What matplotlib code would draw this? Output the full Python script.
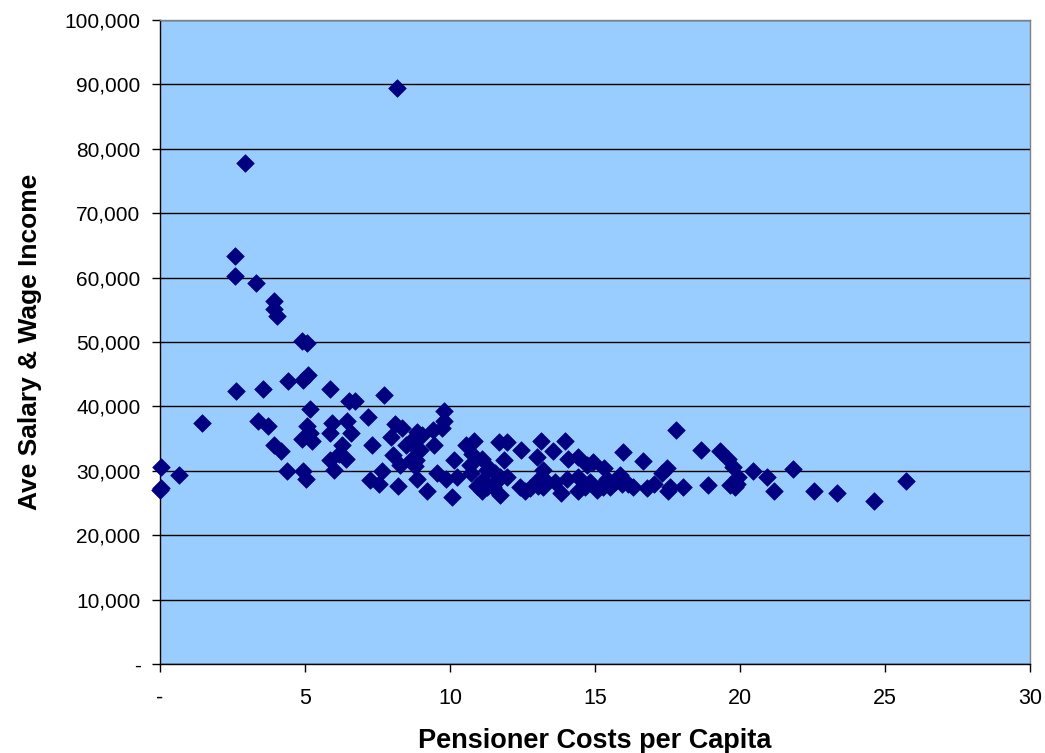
import matplotlib
matplotlib.use("Agg")
import matplotlib.pyplot as plt
from matplotlib.ticker import FuncFormatter

pension_costs = [
    0.02, 0.02, 0.0, 0.66, 1.46,
    2.59, 2.59, 2.62, 2.93, 3.31,
    3.39, 3.54, 3.73, 3.94, 3.94, 4.02,
    3.93, 4.17, 4.37, 4.43,
    4.91, 5.06, 4.94, 5.1, 5.17,
    5.06, 4.89, 5.17, 5.23,
    4.92, 5.03,
    5.86, 6.52, 6.72, 7.73, 8.17,
    5.94, 5.86, 6.44, 6.58, 7.18,
    6.29, 6.18, 6.41, 5.86, 6.01,
    7.32, 7.95, 8.12, 8.36, 8.02, 8.28,
    7.67, 7.24, 7.56, 8.2,
    8.48, 8.68, 8.85, 9.02, 8.79, 8.97,
    8.68, 8.83, 8.79, 8.85, 9.2,
    9.46, 9.54, 9.43, 9.71, 9.8, 9.8,
    9.86, 10.14, 10.23, 10.08,
    10.55, 10.83, 10.75, 11.12, 10.69, 10.71,
    11.36, 10.92, 11.09, 11.26, 11.15,
    11.55, 11.67, 11.95, 11.49, 11.72,
    11.7, 11.98, 11.87, 12.44,
    12.41, 12.59, 12.76,
    12.99, 13.13, 13.2, 13.05, 13.22, 13.05, 13.33,
    13.54, 13.62, 13.82, 13.97, 14.06, 14.02,
    14.43, 14.43, 14.43, 14.71, 14.92,
    14.66, 14.83, 15.06, 15.23, 15.31, 15.4,
    15.29, 15.52, 15.69, 15.86, 15.92, 16.15, 16.32,
    15.95, 16.64, 16.78, 17.03, 17.3, 17.47,
    17.53, 17.59, 17.81, 18.05, 18.64, 18.91,
    19.31, 19.6, 19.75, 19.94, 19.66, 19.83, 19.89,
    20.44, 20.92, 21.18, 21.82, 22.56, 23.33, 24.63, 25.72,
    11.26, 11.72,
]

salary_income = [
    30600, 27300, 27000, 29300, 37400,
    63400, 60300, 42400, 77750, 59100,
    37700, 42650, 37000, 56400, 55100, 54100,
    34000, 33100, 29950, 43900,
    50150, 49800, 44100, 44900, 39550,
    36900, 34950, 35800, 34600,
    30000, 28700,
    42650, 40900, 40900, 41700, 89400,
    37500, 35800, 37700, 35800, 38400,
    34000, 32600, 31800, 31700, 30200,
    34000, 35200, 37200, 36700, 32450, 30900,
    30000, 28500, 28000, 27650,
    34000, 34800, 36100, 35600, 33700, 33300,
    31900, 31700, 30700, 28800, 26900,
    34000, 29600, 36300, 36600, 37800, 39300,
    28800, 31600, 29100, 26000,
    34000, 34700, 32600, 31800, 30900, 29600,
    30400, 27600, 26800, 27500, 28600,
    29600, 28600, 29000, 27500, 26200,
    34400, 34400, 31600, 33300,
    27500, 26800, 27300,
    32100, 34600, 30100, 28600, 27500, 27600, 28300,
    33100, 28300, 26600, 34600, 31800, 28800,
    32100, 29000, 26800, 30900, 31300,
    27500, 28300, 27000, 27800, 30400, 28800,
    27500, 27500, 28300, 29300, 28000, 28000, 27500,
    32900, 31500, 27400, 27950, 29600, 30400,
    26800, 27500, 36400, 27500, 33300, 27800,
    33100, 31900, 30600, 29100, 27800, 27500, 28000,
    30000, 29000, 26800, 30250, 26900, 26500, 25300, 28400,
    30100, 29100,
]

x_ticks = [0, 5, 10, 15, 20, 25, 30]
y_ticks = list(range(0, 100001, 10000))

plt.rcParams['font.family'] = ['Liberation Sans', 'DejaVu Sans']

fig = plt.figure(figsize=(10.45, 7.53), dpi=100)
ax = fig.add_axes([160/1045, 1 - 664/753, 870/1045, 644/753])
ax.set_facecolor('#99CCFF')

ax.scatter(pension_costs, salary_income, marker='D', s=80, color='#000080',
           edgecolors='#000080', linewidths=0.5, zorder=3, clip_on=False)

ax.set_xlim(0, 30)
ax.set_ylim(0, 100000)
ax.set_xticks(x_ticks)
ax.set_yticks(y_ticks)

ax.xaxis.set_major_formatter(FuncFormatter(lambda v, p: '-' if v == 0 else f'{int(v)}'))
ax.yaxis.set_major_formatter(FuncFormatter(lambda v, p: '-' if v == 0 else f'{int(v):,}'))

ax.yaxis.grid(True, color='black', linewidth=1.0)
ax.set_axisbelow(True)

for s in ['left', 'bottom']:
    ax.spines[s].set_color('black')
    ax.spines[s].set_linewidth(1.0)
for s in ['top', 'right']:
    ax.spines[s].set_color('#808080')
    ax.spines[s].set_linewidth(1.0)

ax.tick_params(axis='both', direction='out', length=6, width=1, color='black')
ax.tick_params(axis='x', pad=11, labelsize=15.5)
ax.tick_params(axis='y', pad=8, labelsize=15)

ax.set_xlabel('Pensioner Costs per Capita', fontsize=19.5, fontweight='bold')
ax.set_ylabel('Ave Salary & Wage Income', fontsize=19, fontweight='bold')
ax.xaxis.set_label_coords(0.5, -(741 - 664) / 644, transform=ax.transAxes)
ax.yaxis.set_label_coords(-(160 - 30) / 870, 0.5, transform=ax.transAxes)
ax.xaxis.label.set_va('center')
ax.yaxis.label.set_va('center')

fig.savefig('out.png', dpi=100)
